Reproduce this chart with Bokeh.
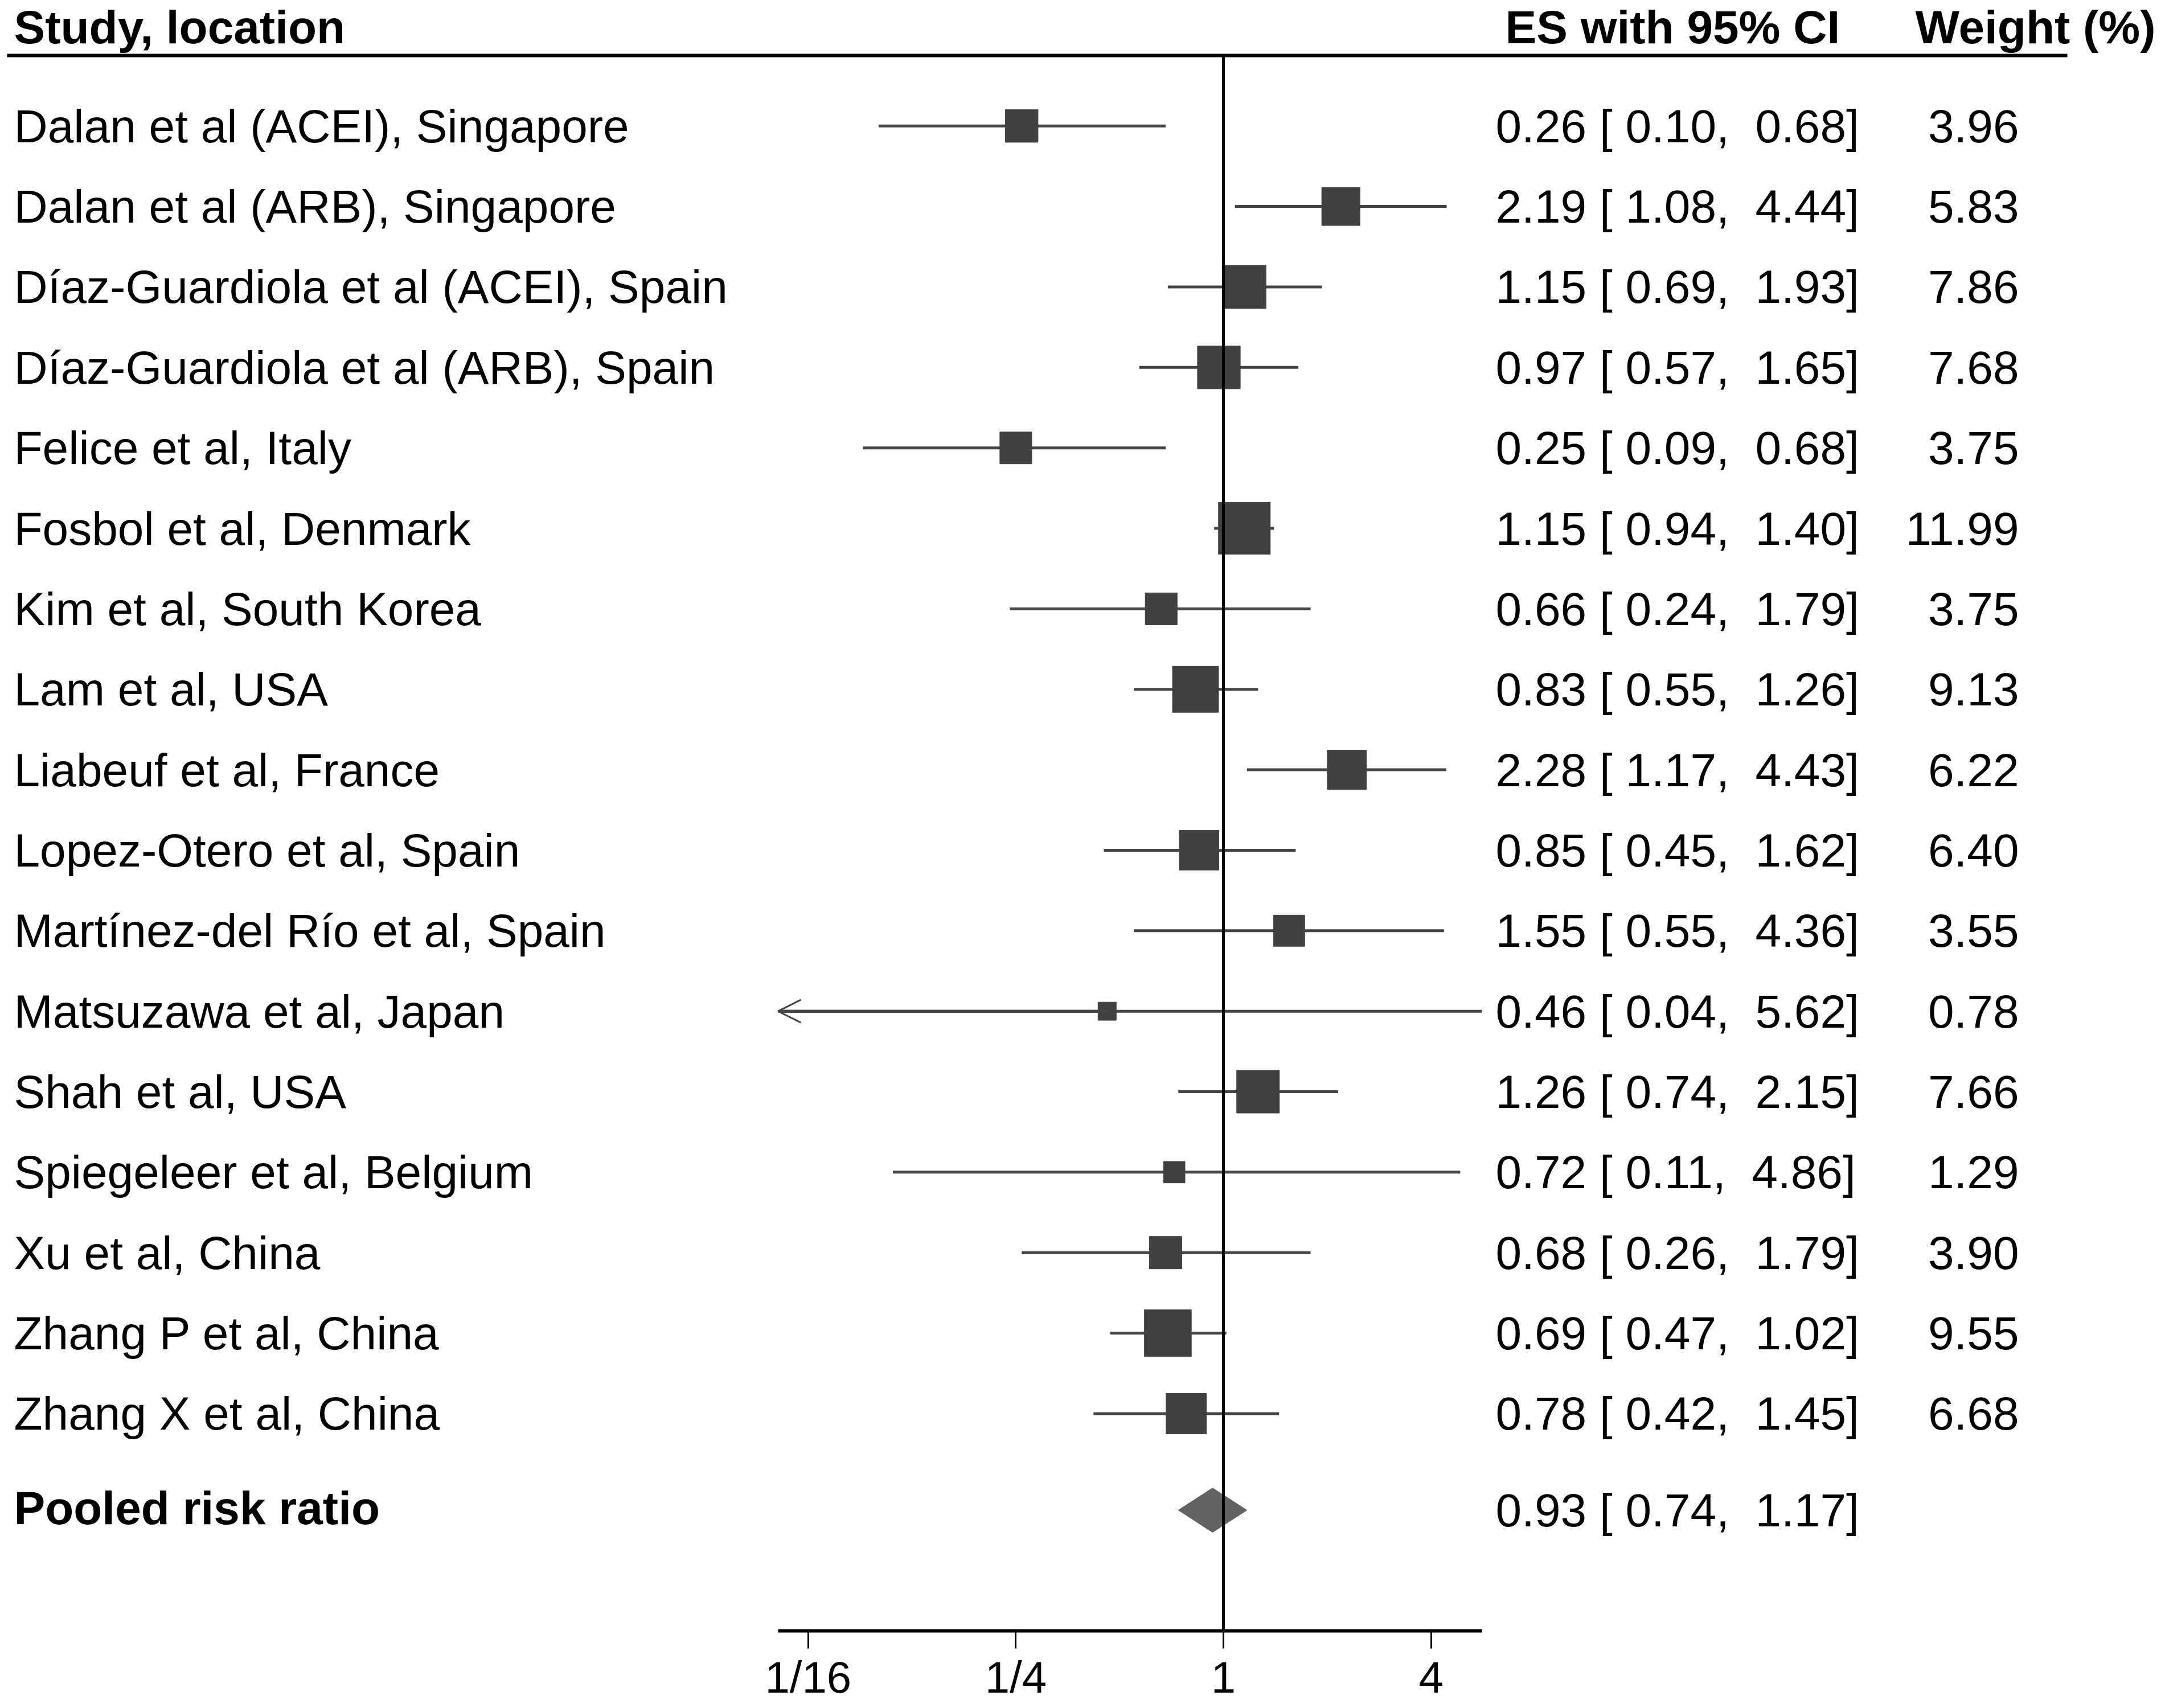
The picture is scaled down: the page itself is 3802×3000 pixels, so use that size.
import math
from bokeh.plotting import figure
from bokeh.models import Range1d, LinearScale, FixedTicker, ColumnDataSource, Arrow, OpenHead
from bokeh.core.properties import value
from bokeh.embed import file_html
from bokeh.resources import INLINE

# ---------------- data ----------------
studies = [
    "Dalan et al (ACEI), Singapore",
    "Dalan et al (ARB), Singapore",
    "Díaz-Guardiola et al (ACEI), Spain",
    "Díaz-Guardiola et al (ARB), Spain",
    "Felice et al, Italy",
    "Fosbol et al, Denmark",
    "Kim et al, South Korea",
    "Lam et al, USA",
    "Liabeuf et al, France",
    "Lopez-Otero et al, Spain",
    "Martínez-del Río et al, Spain",
    "Matsuzawa et al, Japan",
    "Shah et al, USA",
    "Spiegeleer et al, Belgium",
    "Xu et al, China",
    "Zhang P et al, China",
    "Zhang X et al, China",
]
es = [0.26, 2.19, 1.15, 0.97, 0.25, 1.15, 0.66, 0.83, 2.28, 0.85, 1.55, 0.46, 1.26, 0.72, 0.68, 0.69, 0.78]
ci_lo = [0.10, 1.08, 0.69, 0.57, 0.09, 0.94, 0.24, 0.55, 1.17, 0.45, 0.55, 0.04, 0.74, 0.11, 0.26, 0.47, 0.42]
ci_hi = [0.68, 4.44, 1.93, 1.65, 0.68, 1.40, 1.79, 1.26, 4.43, 1.62, 4.36, 5.62, 2.15, 4.86, 1.79, 1.02, 1.45]
weights = [3.96, 5.83, 7.86, 7.68, 3.75, 11.99, 3.75, 9.13, 6.22, 6.40, 3.55, 0.78, 7.66, 1.29, 3.90, 9.55, 6.68]

pooled_label = "Pooled risk ratio"
pooled_es = 0.93
pooled_lo = 0.74
pooled_hi = 1.17

null_value = 1.0
tick_values = [1 / 16, 1 / 4, 1, 4]
tick_labels = ["1/16", "1/4", "1", "4"]
header_study = "Study, location"
header_es = "ES with 95% CI"
header_weight = "Weight (%)"

# ---------------- layout ----------------
W, H = 3794, 2992
FRAME_H = 2867
X_ONE = 2148.0          # pixel where RR = 1
PX_PER_LOG2 = 182.3
ROW1_PX = 221.0         # pixel of first row centre
ROW_PX = 141.5

x_lo = 2 ** (-X_ONE / PX_PER_LOG2)
x_hi = 2 ** ((W - X_ONE) / PX_PER_LOG2)
y_top = 1 - ROW1_PX / ROW_PX
y_bot = y_top + FRAME_H / ROW_PX
axis_bounds = (0.0511, 5.62)
hdr_line_row = y_top + 97 / ROW_PX
hdr_text_row = y_top + 47 / ROW_PX
pooled_row = len(studies) + 1.2

FONT = value("Liberation Sans")
FS = value("82px")
BOX_COL = "#404040"
LINE_COL = "#454545"

p = figure(width=W, height=H, x_axis_type="log",
           x_range=Range1d(x_lo, x_hi), y_range=Range1d(y_bot, y_top),
           y_axis_location=None, toolbar_location=None, output_backend="svg",
           min_border_left=0, min_border_right=0, min_border_top=0,
           min_border_bottom=H - FRAME_H, outline_line_color=None,
           background_fill_color="white", border_fill_color="white")
p.extra_x_ranges = {"px": Range1d(0, W)}
p.extra_x_scales = {"px": LinearScale()}
p.xgrid.grid_line_color = None
p.ygrid.grid_line_color = None

n = len(studies)
rows = list(range(1, n + 1))
seg_lo = [max(l, axis_bounds[0]) for l in ci_lo]
box = [22.9 * math.sqrt(w) + 11.7 for w in weights]
es_txt = [f"{e:.2f} [\u00a0{l:.2f},\u00a0\u00a0{h:.2f}]" for e, l, h in zip(es, ci_lo, ci_hi)]
w_txt = [f"{w:.2f}" for w in weights]

src = ColumnDataSource(dict(row=rows, es=es, lo=seg_lo, hi=ci_hi, box=box,
                            study=studies, es_txt=es_txt, w_txt=w_txt))

# CI lines
p.segment(x0="lo", y0="row", x1="hi", y1="row", source=src, line_color=LINE_COL, line_width=5)
# arrows where CI exceeds axis
for e, l, r in zip(es, ci_lo, rows):
    if l < axis_bounds[0]:
        p.add_layout(Arrow(end=OpenHead(size=40, line_color=LINE_COL, line_width=3),
                           x_start=e, y_start=r, x_end=axis_bounds[0], y_end=r,
                           line_color=LINE_COL, line_width=5))
# boxes
p.scatter(x="es", y="row", size="box", marker="square", source=src,
          fill_color=BOX_COL, line_color=BOX_COL, line_width=1)

# pooled diamond
dh = 39 / ROW_PX
p.patch(x=[pooled_lo, pooled_es, pooled_hi, pooled_es],
        y=[pooled_row, pooled_row - dh, pooled_row, pooled_row + dh],
        fill_color="#626262", line_color="#626262", line_width=1)

# null line
p.segment(x0=[null_value], y0=[hdr_line_row], x1=[null_value], y1=[y_bot],
          line_color="black", line_width=5)

# header line
p.segment(x0=[12], y0=[hdr_line_row], x1=[3630], y1=[hdr_line_row],
          x_range_name="px", line_color="black", line_width=6)

# texts
p.text(x=24, y="row", text="study", source=src, x_range_name="px",
       text_font=FONT, text_font_size=FS, text_baseline="middle", text_align="left", text_color="black")
p.text(x=2626, y="row", text="es_txt", source=src, x_range_name="px",
       text_font=FONT, text_font_size=FS, text_baseline="middle", text_align="left", text_color="black")
p.text(x=3545, y="row", text="w_txt", source=src, x_range_name="px",
       text_font=FONT, text_font_size=FS, text_baseline="middle", text_align="right", text_color="black")

p.text(x=[24], y=[pooled_row - 0.03], text=[pooled_label], x_range_name="px",
       text_font=FONT, text_font_size=FS, text_font_style="bold",
       text_baseline="middle", text_align="left", text_color="black")
p.text(x=[2626], y=[pooled_row],
       text=[f"{pooled_es:.2f} [\u00a0{pooled_lo:.2f},\u00a0\u00a0{pooled_hi:.2f}]"],
       x_range_name="px", text_font=FONT, text_font_size=FS,
       text_baseline="middle", text_align="left", text_color="black")

p.text(x=[24, 2643, 3363], y=[hdr_text_row] * 3, text=[header_study, header_es, header_weight],
       x_range_name="px", text_font=FONT, text_font_size=FS, text_font_style="bold",
       text_baseline="middle", text_align="left", text_color="black")

# axis
ax = p.xaxis[0]
ax.bounds = axis_bounds
ax.ticker = FixedTicker(ticks=tick_values)
ov = {}
for t, l in zip(tick_values, tick_labels):
    ov[t] = l
    ov[str(t)] = l
ax.major_label_overrides = ov
ax.axis_line_width = 6
ax.axis_line_color = "black"
ax.major_tick_line_width = 3
ax.major_tick_line_color = "black"
ax.major_tick_out = 31
ax.major_tick_in = 0
ax.minor_tick_line_color = None
ax.major_label_standoff = 6
ax.major_label_text_font = "Liberation Sans"
ax.major_label_text_font_size = "78px"
ax.major_label_text_color = "black"

open("out.html", "w").write(file_html(p, INLINE))
